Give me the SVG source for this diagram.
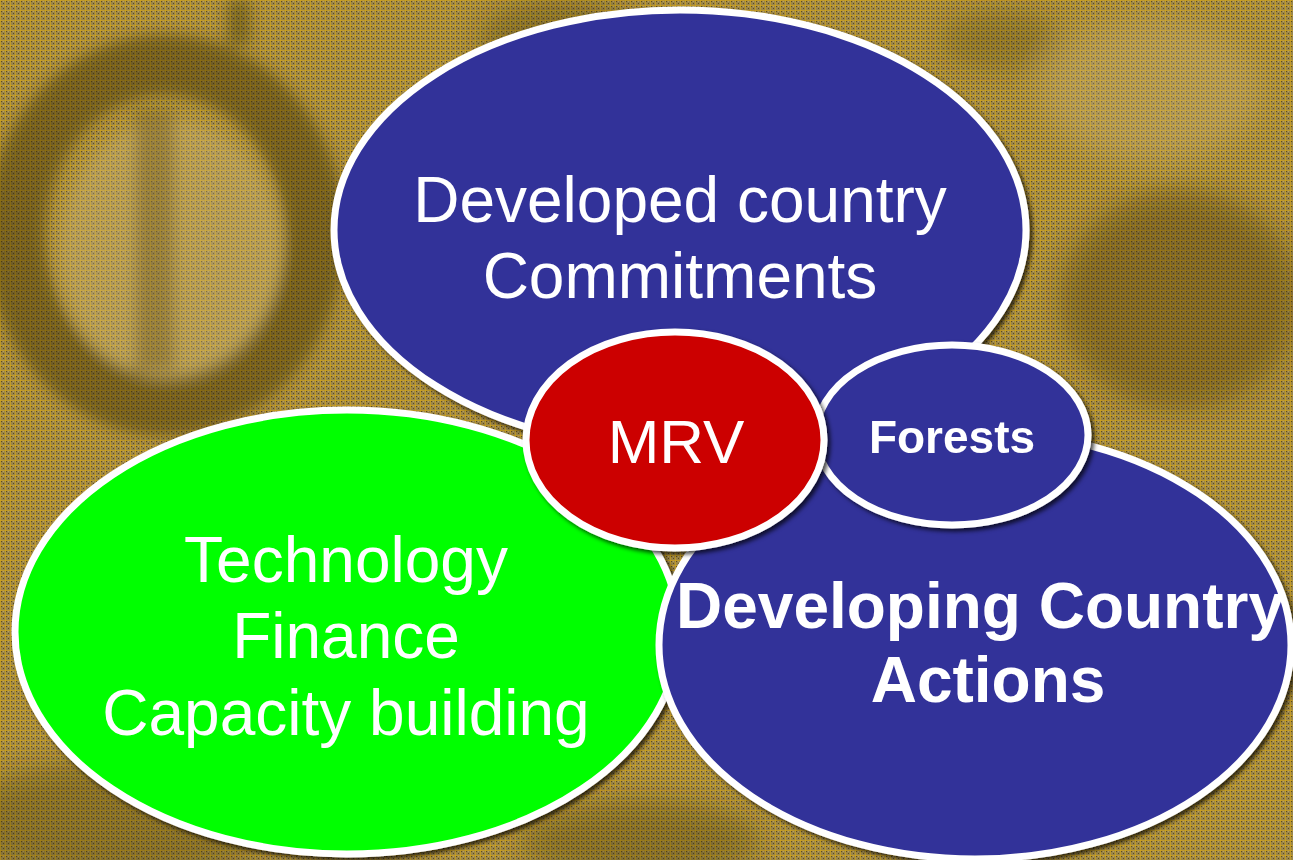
<svg xmlns="http://www.w3.org/2000/svg" width="1293" height="860" viewBox="0 0 1293 860">
  <defs>
    <!-- woven gold backdrop texture -->
    <pattern id="weave" width="5" height="5" patternUnits="userSpaceOnUse">
      <rect width="5" height="5" fill="#9c8648"/>
      <rect x="1" y="1" width="1" height="1" fill="#5e4c1c"/>
      <rect x="3" y="3" width="1" height="1" fill="#5e4c1c"/>
      <rect x="3" y="1" width="1" height="1" fill="#b4a068"/>
      <rect x="0" y="0" width="5" height="1" fill="#d8a614" opacity="0.6"/>
      <rect x="0" y="0" width="1" height="5" fill="#d8a614" opacity="0.6"/>
    </pattern>
    <filter id="soft" x="-30%" y="-30%" width="160%" height="160%">
      <feGaussianBlur stdDeviation="14"/>
    </filter>
    <filter id="softer" x="-30%" y="-30%" width="160%" height="160%">
      <feGaussianBlur stdDeviation="7"/>
    </filter>
    <filter id="shadow" x="-10%" y="-10%" width="120%" height="120%">
      <feDropShadow dx="3" dy="3" stdDeviation="2" flood-color="#000" flood-opacity="0.7"/>
    </filter>
    <style>
      .node { stroke: #ffffff; stroke-width: 7; filter: url(#shadow); }
      .blue { fill: #333399; }
      .green { fill: #00ff00; }
      .red { fill: #cc0000; }
      .label { fill: #ffffff; font-family: "Liberation Sans", Arial, sans-serif; text-anchor: middle; }
      .bold { font-weight: bold; }
      .dark { fill: #3a2c00; }
      .light { fill: #d4c08a; }
    </style>
  </defs>

  <!-- backdrop -->
  <g id="backdrop">
    <rect width="1293" height="860" fill="url(#weave)"/>
    <g filter="url(#softer)">
      <!-- dark ring, upper left -->
      <ellipse cx="165" cy="235" rx="150" ry="170" fill="none" stroke="#3a2c00" stroke-width="60" opacity="0.45"/>
      <ellipse cx="170" cy="250" rx="110" ry="130" class="light" opacity="0.3"/>
      <rect x="135" y="110" width="40" height="260" class="dark" opacity="0.25"/>
      <rect x="228" y="0" width="22" height="45" class="dark" opacity="0.4"/>
    </g>
    <g filter="url(#soft)">
      <!-- darker masses right side -->
      <ellipse cx="1180" cy="300" rx="120" ry="110" class="dark" opacity="0.35"/>
      <ellipse cx="1150" cy="90" rx="110" ry="70" class="light" opacity="0.25"/>
      <ellipse cx="560" cy="40" rx="80" ry="40" class="dark" opacity="0.3"/>
      <ellipse cx="1000" cy="40" rx="60" ry="30" class="dark" opacity="0.25"/>
      <!-- lower band -->
      <ellipse cx="120" cy="820" rx="160" ry="60" class="dark" opacity="0.3"/>
      <ellipse cx="640" cy="840" rx="120" ry="40" class="dark" opacity="0.3"/>
    </g>
  </g>

  <!-- connectors: none drawn, nodes overlap directly -->
  <g id="connectors"></g>

  <g id="node-developed">
    <ellipse class="node blue" cx="680" cy="230" rx="346" ry="220"/>
    <text class="label" x="680" y="222" font-size="64">Developed country</text>
    <text class="label" x="680" y="298" font-size="64">Commitments</text>
  </g>

  <g id="node-support">
    <ellipse class="node green" cx="347" cy="632" rx="332" ry="222"/>
    <text class="label" x="346" y="582" font-size="64">Technology</text>
    <text class="label" x="346" y="658" font-size="64">Finance</text>
    <text class="label" x="346" y="735" font-size="64">Capacity building</text>
  </g>

  <g id="node-developing">
    <ellipse class="node blue" cx="975" cy="645" rx="316" ry="214"/>
    <text class="label bold" x="980" y="628" font-size="64">Developing Country</text>
    <text class="label bold" x="988" y="702" font-size="64">Actions</text>
  </g>

  <g id="node-forests">
    <ellipse class="node blue" cx="952" cy="435" rx="136" ry="90"/>
    <text class="label bold" x="952" y="453" font-size="46">Forests</text>
  </g>

  <g id="node-mrv">
    <ellipse class="node red" cx="675" cy="440" rx="149" ry="108"/>
    <text class="label" x="676" y="463" font-size="62">MRV</text>
  </g>
</svg>
